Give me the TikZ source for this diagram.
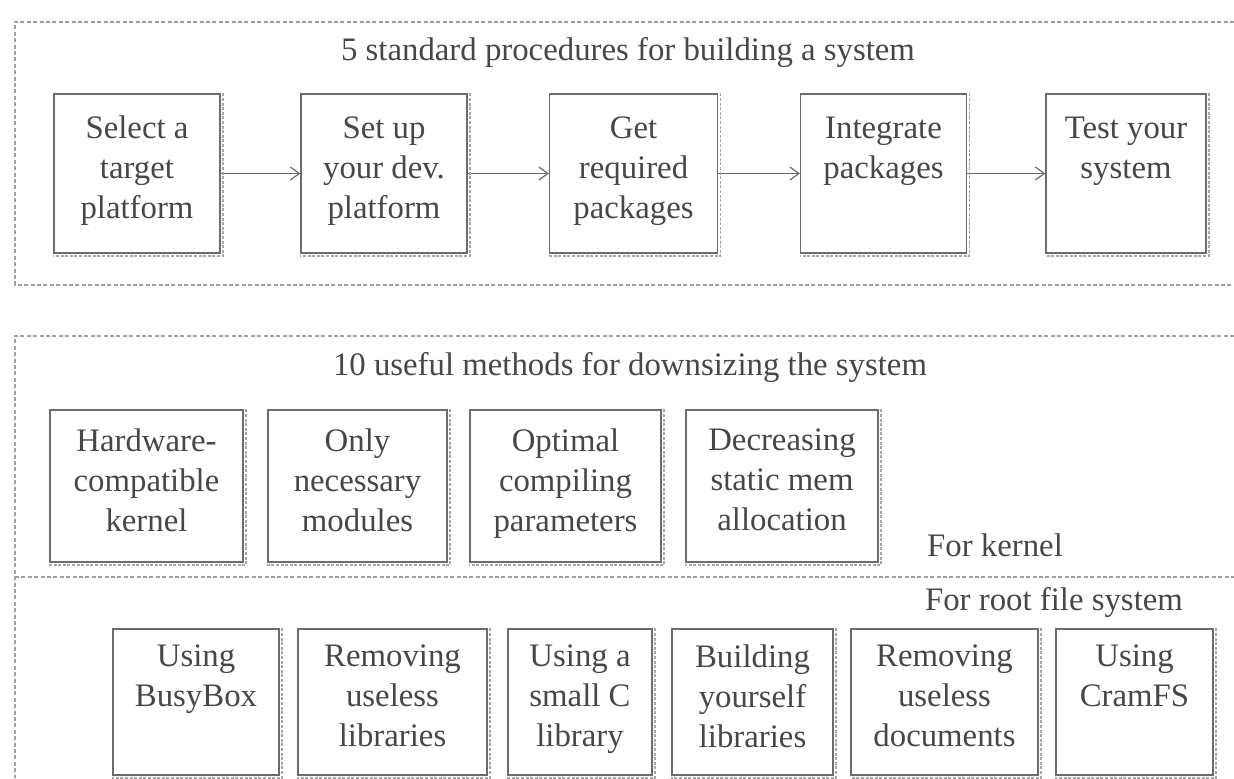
\documentclass[tikz,border=0pt]{standalone}
\usepackage{fontspec}
\setmainfont{Liberation Serif}
\usetikzlibrary{arrows.meta}

\tikzset{
  stage/.style={draw=gray!85!black, line width=0.6pt, align=center, text=black!72,
    font=\fontsize{16.4}{20}\selectfont, inner sep=0pt,
    execute at begin node=\strut, execute at end node=\strut},
  caption/.style={text=black!72, font=\fontsize{16.4}{20}\selectfont, inner sep=0pt},
  frame/.style={draw=gray!75, line width=0.6pt, dash pattern=on 2pt off 1.2pt},
  shade/.style={draw=gray!70, line width=0.6pt, dash pattern=on 1.5pt off 0.8pt},
  flow/.style={draw=gray!85!black, line width=0.6pt, -{Straight Barb[length=4.5pt,width=6.5pt]}},
}

\begin{document}
\begin{tikzpicture}[x=0.5pt,y=-0.5pt]
\useasboundingbox (0,0) rectangle (1234,778);

% building a system
\draw[frame] (1234,22) -- (15,22) -- (15,285) -- (1234,285);
\node[caption] (build) at (628,52) {5 standard procedures for building a system};

\node[stage, minimum width=83pt, minimum height=79.5pt] (select) at (137,173.5) {Select a\\target\\platform};
\node[stage, minimum width=83pt, minimum height=79.5pt] (setup) at (384,173.5) {Set up\\your dev.\\platform};
\node[stage, minimum width=84pt, minimum height=79.5pt] (getpkg) at (633.5,173.5) {Get\\required\\packages};
\node[stage, minimum width=83pt, minimum height=79.5pt] (integ) at (883.5,173.5) {Integrate\\packages\\\mbox{}};
\node[stage, minimum width=80pt, minimum height=79.5pt] (test) at (1126,173.5) {Test your\\system\\\mbox{}};

\draw[flow] (select) -- (setup);
\draw[flow] (setup) -- (getpkg);
\draw[flow] (getpkg) -- (integ);
\draw[flow] (integ) -- (test);

% downsizing the system
\draw[frame] (1234,336) -- (15,336) -- (15,778);
\draw[frame] (15,577) -- (1234,577);
\node[caption] (downsize) at (630,367) {10 useful methods for downsizing the system};

\node[stage, minimum width=96.5pt, minimum height=76pt] (hwkernel) at (146.5,486) {Hardware-\\compatible\\kernel};
\node[stage, minimum width=89.5pt, minimum height=76pt] (modules) at (357.5,486) {Only\\necessary\\modules};
\node[stage, minimum width=95.5pt, minimum height=76pt] (compile) at (565.5,486) {Optimal\\compiling\\parameters};
\node[stage, minimum width=96pt, minimum height=76pt] (staticmem) at (782,486) {Decreasing\\static mem\\allocation};
\node[caption] (forkernel) at (995,545) {For kernel};

\node[caption] (forrootfs) at (1054,602) {For root file system};
\node[stage, minimum width=83pt, minimum height=73pt] (busybox) at (196,702) {Using\\BusyBox\\\mbox{}};
\node[stage, minimum width=94.5pt, minimum height=73pt] (uselib) at (392.5,702) {Removing\\useless\\libraries};
\node[stage, minimum width=72pt, minimum height=73pt] (smallc) at (580,702) {Using a\\small C\\library};
\node[stage, minimum width=80.5pt, minimum height=73pt] (ownlib) at (752.5,702) {Building\\yourself\\libraries};
\node[stage, minimum width=93.5pt, minimum height=73pt] (usedoc) at (944.5,702) {Removing\\useless\\documents};
\node[stage, minimum width=78.5pt, minimum height=73pt] (cramfs) at (1134.5,702) {Using\\CramFS\\\mbox{}};

% rough shadow edges of the boxes
\foreach \b in {select,setup,getpkg,integ,test,hwkernel,modules,compile,staticmem,busybox,uselib,smallc,ownlib,usedoc,cramfs}
  \draw[shade] ([xshift=1.2pt]\b.north east) -- ([xshift=1.2pt,yshift=-1.2pt]\b.south east) -- ([yshift=-1.2pt]\b.south west);

\end{tikzpicture}
\end{document}
